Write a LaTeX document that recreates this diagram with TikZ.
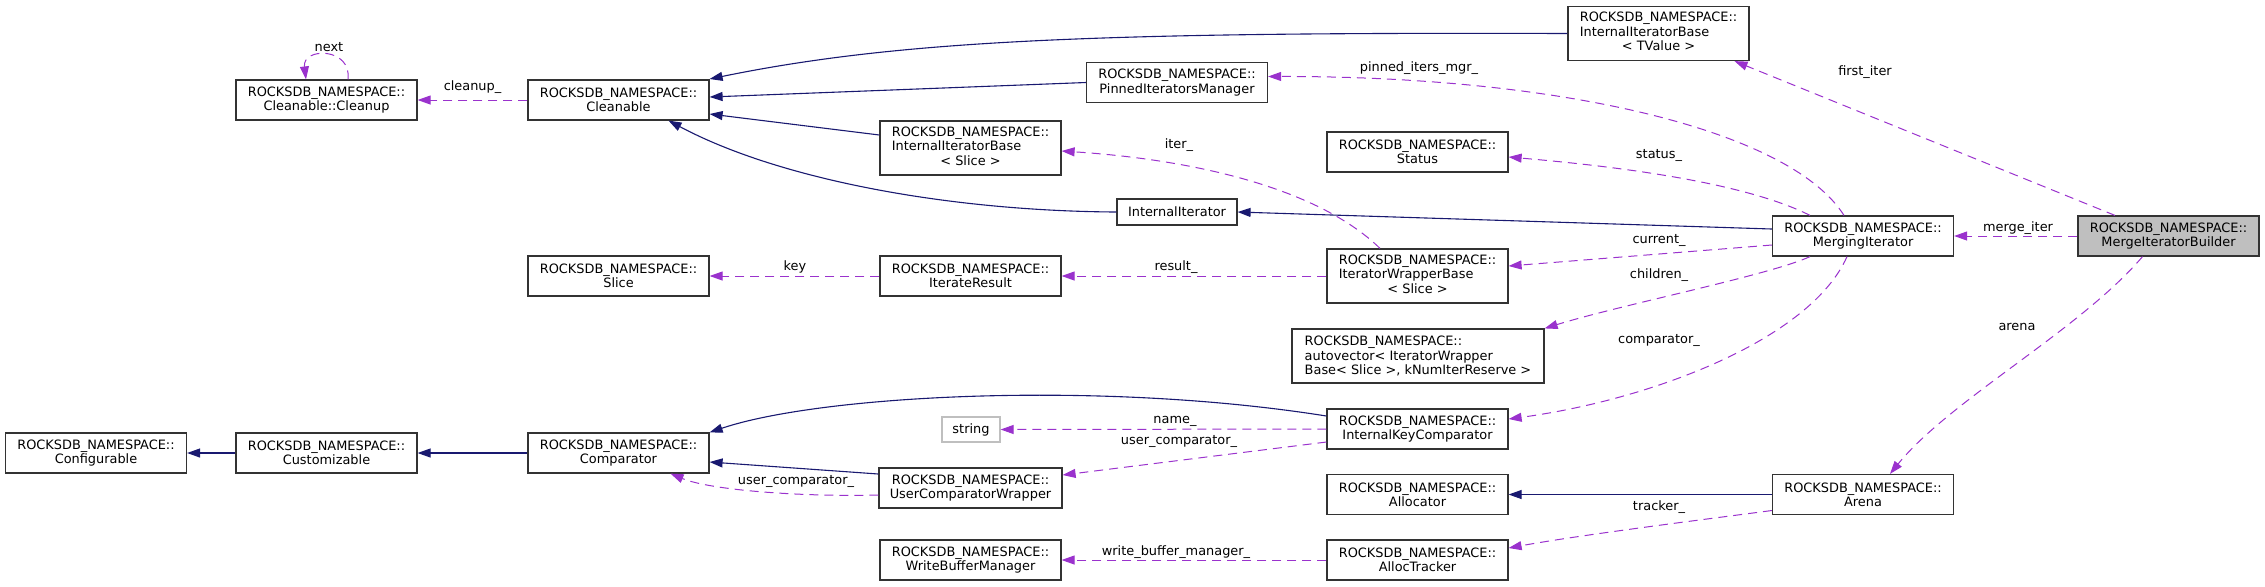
\documentclass[tikz,border=0pt]{standalone}
\usepackage{fontspec}
\setmainfont{DejaVu Sans}
\usetikzlibrary{arrows.meta}
\definecolor{inhcol}{RGB}{25, 25, 112}
\definecolor{usecol}{RGB}{154, 50, 205}
\definecolor{greycol}{RGB}{191, 191, 191}
\newcommand{\tmplname}[3]{\begin{tabular}{@{}l@{}}#1\\#2\\\multicolumn{1}{@{}c@{}}{#3}\end{tabular}}

\begin{document}
\begin{tikzpicture}[
    x=0.5pt, y=-0.5pt,
    box/.style={rectangle, draw=black!80, line width=0.6pt, fill=white, minimum width=90.5pt,
                minimum height=20pt, inner sep=0pt, align=center, font=\fontsize{6.45}{7.2}\selectfont},
    tbox/.style={box, minimum height=27pt},
    inharr/.style={draw=inhcol, line width=0.55pt, -{Triangle[length=6.5pt, width=4.5pt]}},
    usearr/.style={draw=usecol, line width=0.5pt, dash pattern=on 4.5pt off 3pt,
                   -{Triangle[length=6.5pt, width=4.5pt]}},
    lbl/.style={font=\fontsize{6.45}{7.2}\selectfont, inner sep=0pt}
  ]
  \useasboundingbox (0,0) rectangle (2265,586);

  % Nodes
  \node[box] (cfg) at (96,453) {ROCKSDB\_NAMESPACE::\\Configurable};
  \node[box] (cust) at (326.5,453) {ROCKSDB\_NAMESPACE::\\Customizable};
  \node[box] (cmp) at (618.5,453) {ROCKSDB\_NAMESPACE::\\Comparator};
  \node[box] (cleanup) at (326.5,100) {ROCKSDB\_NAMESPACE::\\Cleanable::Cleanup};
  \node[box] (cleanable) at (618.5,100) {ROCKSDB\_NAMESPACE::\\Cleanable};
  \node[box] (slice) at (618.5,276) {ROCKSDB\_NAMESPACE::\\Slice};
  \node[tbox] (iibs) at (970.5,148) {\tmplname{ROCKSDB\_NAMESPACE::}{InternalIteratorBase}{< Slice >}};
  \node[box] (pinned) at (1177,82.5) {ROCKSDB\_NAMESPACE::\\PinnedIteratorsManager};
  \node[box, minimum width=60pt, minimum height=13pt] (initer) at (1177,212) {InternalIterator};
  \node[box] (iterres) at (970.5,276) {ROCKSDB\_NAMESPACE::\\IterateResult};
  \node[box, draw=greycol, minimum width=29pt, minimum height=12.5pt] (string) at (971,429.5) {string};
  \node[box, minimum width=91.5pt] (ucw) at (970.5,488) {ROCKSDB\_NAMESPACE::\\UserComparatorWrapper};
  \node[box] (wbm) at (970.5,560) {ROCKSDB\_NAMESPACE::\\WriteBufferManager};
  \node[box] (status) at (1417.5,152) {ROCKSDB\_NAMESPACE::\\Status};
  \node[tbox] (iwb) at (1417.5,276) {\tmplname{ROCKSDB\_NAMESPACE::}{IteratorWrapperBase}{< Slice >}};
  \node[tbox, minimum width=126pt, align=left] (autovec) at (1418,356)
        {ROCKSDB\_NAMESPACE::\\autovector< IteratorWrapper\\Base< Slice >, kNumIterReserve >};
  \node[box] (ikc) at (1417.5,429) {ROCKSDB\_NAMESPACE::\\InternalKeyComparator};
  \node[box] (alloc) at (1417.5,494.5) {ROCKSDB\_NAMESPACE::\\Allocator};
  \node[box] (tracker) at (1417.5,560) {ROCKSDB\_NAMESPACE::\\AllocTracker};
  \node[tbox] (iibt) at (1658.5,33.5) {\tmplname{ROCKSDB\_NAMESPACE::}{InternalIteratorBase}{< TValue >}};
  \node[box] (merging) at (1863,236) {ROCKSDB\_NAMESPACE::\\MergingIterator};
  \node[box] (arena) at (1863,494.5) {ROCKSDB\_NAMESPACE::\\Arena};
  \node[box, fill=greycol] (mib) at (2168.5,236) {ROCKSDB\_NAMESPACE::\\MergeIteratorBuilder};

  % Inheritance
  \draw[inharr] (iibt.west) .. controls (1100,32) and (900,40) .. ([yshift=10.5pt]cleanable.east);
  \draw[inharr] (pinned.west) -- ([yshift=1.5pt]cleanable.east);
  \draw[inharr] ([yshift=6.5pt]iibs.west) -- ([yshift=-7pt]cleanable.east);
  \draw[inharr] (initer.west) .. controls (950,211) and (780,180) .. ([xshift=25pt]cleanable.south);
  \draw[inharr] ([yshift=3.5pt]merging.west) -- (initer.east);
  \draw[inharr] (cust.west) -- (cfg.east);
  \draw[inharr] (cmp.west) -- (cust.east);
  \draw[inharr] ([yshift=6.5pt]ikc.west) .. controls (1100,380) and (820,395) .. (cmp.north east);
  \draw[inharr] ([yshift=7pt]ucw.west) -- ([yshift=-4.5pt]cmp.east);
  \draw[inharr] (arena.west) -- (alloc.east);

  % Members
  \draw[usearr] (cleanable.west) -- (cleanup.east) node[lbl, pos=0.5, above=3pt] {cleanup\_};
  \draw[usearr] ([xshift=10.75pt]cleanup.north) .. controls (352,47) and (302,47) .. ([xshift=-10.25pt]cleanup.north);
  \node[lbl] at (329,47) {next};
  \draw[usearr] ([xshift=-9.5pt]merging.north) .. controls (1790,130) and (1560,76) .. ([yshift=3pt]pinned.east);
  \node[lbl] at (1419,68) {pinned\_iters\_mgr\_};
  \draw[usearr] ([xshift=-26.5pt]merging.north) .. controls (1740,180) and (1600,165) .. ([yshift=-2.5pt]status.east);
  \node[lbl] at (1659,155) {status\_};
  \draw[usearr] ([xshift=-18.75pt]iwb.north) .. controls (1320,190) and (1200,160) .. ([yshift=-1.5pt]iibs.east);
  \node[lbl] at (1179,145) {iter\_};
  \draw[usearr] (iterres.west) -- (slice.east);
  \node[lbl] at (795,267) {key};
  \draw[usearr] (iwb.west) -- (iterres.east);
  \node[lbl] at (1176,267) {result\_};
  \draw[usearr] ([yshift=-4.5pt]merging.west) -- ([yshift=5pt]iwb.east);
  \node[lbl] at (1659,240) {current\_};
  \draw[usearr] ([xshift=-26.5pt]merging.south) .. controls (1770,275) and (1620,305) .. (autovec.north east);
  \node[lbl] at (1659,275) {children\_};
  \draw[usearr] ([xshift=-8pt]merging.south) .. controls (1810,340) and (1650,400) .. ([yshift=5pt]ikc.east);
  \node[lbl] at (1659,340) {comparator\_};
  \draw[usearr] (ikc.west) -- (string.east);
  \node[lbl] at (1175,421) {name\_};
  \draw[usearr] ([yshift=-6.5pt]ikc.west) -- ([yshift=6.5pt]ucw.east);
  \node[lbl] at (1179,441) {user\_comparator\_};
  \draw[usearr] ([yshift=-3.5pt]ucw.west) .. controls (800,497) and (710,490) .. ([xshift=26pt]cmp.south);
  \node[lbl] at (796,481) {user\_comparator\_};
  \draw[usearr] (tracker.west) -- (wbm.east);
  \node[lbl] at (1176,552) {write\_buffer\_manager\_};
  \draw[usearr] ([yshift=-8pt]arena.west) .. controls (1700,520) and (1580,535) .. ([yshift=6pt]tracker.east);
  \node[lbl] at (1659,507) {tracker\_};
  \draw[usearr] (mib.west) -- (merging.east);
  \node[lbl] at (2018,228) {merge\_iter};
  \draw[usearr] ([xshift=-26.75pt]mib.north) -- ([xshift=38pt]iibt.south);
  \node[lbl] at (1865,72) {first\_iter};
  \draw[usearr] ([xshift=-13pt]mib.south) .. controls (2080,330) and (1950,400) .. ([xshift=13.5pt]arena.north);
  \node[lbl] at (2017,327) {arena};
\end{tikzpicture}
\end{document}
